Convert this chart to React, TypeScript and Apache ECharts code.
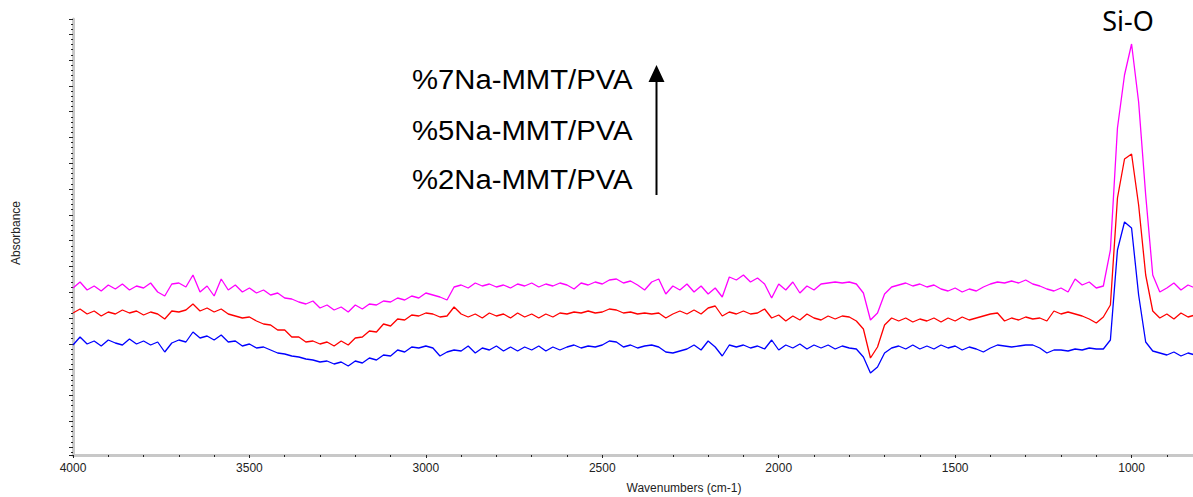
import React, { useEffect, useRef } from "react";
import * as echarts from "echarts";

// Sampling grid (cm-1), 4000 down to 820 in steps of 20
const wavenumbers: number[] = Array.from({ length: 160 }, (_, i) => 4000 - 20 * i);

// Absorbance (arbitrary units)
const pct7: number[] = [
  159, 165, 157, 161, 156, 162, 158, 163, 157, 161,
  159, 164, 155, 151, 163, 164, 160, 172, 155, 161,
  151, 168, 157, 162, 155, 159, 154, 157, 152, 154,
  149, 148, 145, 143, 146, 139, 142, 137, 140, 135,
  142, 138, 143, 142, 146, 145, 149, 147, 151, 149,
  154, 152, 150, 147, 160, 162, 159, 164, 161, 163,
  160, 162, 159, 163, 161, 164, 160, 163, 161, 164,
  162, 158, 164, 162, 165, 163, 167, 168, 164, 166,
  162, 157, 165, 168, 153, 161, 157, 163, 155, 161,
  153, 159, 150, 170, 167, 172, 165, 169, 163, 149,
  163, 157, 165, 154, 161, 157, 163, 164, 165, 164,
  165, 163, 154, 127, 134, 153, 160, 162, 164, 161,
  163, 160, 162, 158, 156, 159, 155, 158, 156, 160,
  163, 165, 164, 166, 164, 167, 163, 161, 158, 156,
  159, 155, 168, 162, 165, 159, 161, 197, 319, 372,
  403, 345, 252, 172, 155, 159, 164, 157, 162, 159,
];
const pct5: number[] = [
  134, 138, 133, 136, 131, 135, 133, 137, 134, 136,
  132, 135, 133, 128, 136, 135, 137, 143, 136, 139,
  135, 138, 133, 131, 129, 130, 126, 123, 122, 117,
  117, 110, 110, 105, 106, 103, 105, 101, 106, 102,
  109, 110, 116, 115, 123, 121, 128, 127, 132, 131,
  134, 133, 130, 131, 140, 133, 130, 133, 129, 134,
  131, 133, 129, 134, 130, 133, 129, 133, 130, 134,
  133, 135, 134, 136, 134, 135, 138, 137, 134, 135,
  133, 134, 133, 134, 129, 133, 136, 133, 137, 133,
  139, 141, 131, 135, 133, 136, 133, 134, 138, 129,
  132, 126, 131, 127, 133, 129, 127, 131, 128, 131,
  130, 126, 118, 89, 100, 122, 129, 126, 129, 125,
  128, 126, 129, 125, 129, 126, 130, 127, 129, 131,
  133, 134, 126, 129, 127, 130, 128, 129, 126, 136,
  133, 135, 133, 131, 128, 124, 130, 142, 249, 288,
  293, 242, 172, 136, 129, 133, 128, 134, 130, 132,
];
const pct2: number[] = [
  102, 110, 103, 106, 101, 107, 104, 102, 108, 103,
  106, 102, 105, 95, 104, 107, 105, 115, 109, 111,
  107, 112, 105, 106, 101, 103, 99, 100, 97, 94,
  93, 91, 90, 88, 87, 85, 86, 83, 85, 81,
  86, 84, 89, 87, 92, 91, 97, 95, 100, 99,
  101, 99, 91, 95, 97, 96, 101, 94, 99, 97,
  101, 96, 100, 96, 100, 97, 101, 96, 100, 97,
  100, 102, 99, 101, 100, 102, 106, 105, 100, 102,
  99, 101, 102, 100, 95, 94, 96, 98, 102, 97,
  106, 100, 91, 102, 100, 102, 99, 101, 98, 107,
  97, 102, 99, 103, 98, 102, 99, 102, 98, 101,
  99, 98, 90, 74, 80, 94, 99, 101, 98, 102,
  98, 101, 98, 102, 99, 101, 97, 100, 98, 95,
  99, 102, 101, 100, 101, 102, 102, 99, 94, 97,
  97, 96, 98, 97, 99, 98, 98, 107, 197, 225,
  219, 152, 105, 96, 94, 92, 95, 91, 94, 92,
];

const seriesNames = ["%7Na-MMT/PVA", "%5Na-MMT/PVA", "%2Na-MMT/PVA"];
const seriesColors = ["#ff00ff", "#ff0000", "#0000ff"];

export default function App() {
  const ref = useRef<HTMLDivElement>(null);
  useEffect(() => {
    const chart = echarts.init(ref.current!, null, { renderer: "svg" });
    const mk = (vals: number[]) => wavenumbers.map((w, i) => [w, vals[i]]);
    const allData = [pct7, pct5, pct2];
    const labelStyle = (text: string) => ({
      text,
      fontSize: 27.5,
      fontFamily: "Liberation Sans",
      fill: "#000",
      align: "left",
      verticalAlign: "middle",
    });
    chart.setOption({
      animation: false,
      backgroundColor: "#ffffff",
      textStyle: { fontFamily: "Liberation Sans" },
      grid: { left: 73, right: 0, top: 19, bottom: 42, outerBoundsMode: "none", containLabel: false },
      xAxis: {
        type: "value",
        min: 500,
        max: 4000,
        interval: 500,
        inverse: true,
        axisLine: { onZero: false, lineStyle: { color: "#c8c8c8", width: 3 } },
        axisTick: { show: true, length: 3, lineStyle: { color: "#222", width: 1 } },
        minorTick: { show: true, splitNumber: 5, length: 2, lineStyle: { color: "#222", width: 1 } },
        axisLabel: {
          margin: 7,
          fontSize: 12,
          color: "#222",
          fontFamily: "Liberation Sans",
          showMinLabel: false,
          formatter: (v: number) => (v < 1000 ? "" : String(v)),
        },
        splitLine: { show: false },
        minorSplitLine: { show: false },
      },
      yAxis: {
        type: "value",
        min: -8,
        max: 428,
        minInterval: 25.8,
        maxInterval: 25.8,
        splitNumber: 17,
        axisLine: { show: true, onZero: false, lineStyle: { color: "#c8c8c8", width: 3 } },
        axisTick: { show: true, length: 4, lineStyle: { color: "#222", width: 1 } },
        minorTick: { show: true, splitNumber: 5, length: 2, lineStyle: { color: "#222", width: 1 } },
        axisLabel: { show: false },
        splitLine: { show: false },
        minorSplitLine: { show: false },
      },
      series: allData.map((vals, k) => ({
        name: seriesNames[k],
        type: "line",
        data: mk(vals),
        symbol: "none",
        showSymbol: false,
        silent: true,
        lineStyle: { color: seriesColors[k], width: 1.3 },
        itemStyle: { color: seriesColors[k] },
      })),
      graphic: [
        { type: "text", x: 412, y: 79.5, scaleX: 1.065, style: labelStyle(seriesNames[0]) },
        { type: "text", x: 412, y: 130.5, scaleX: 1.065, style: labelStyle(seriesNames[1]) },
        { type: "text", x: 412, y: 179, scaleX: 1.065, style: labelStyle(seriesNames[2]) },
        {
          type: "line",
          shape: { x1: 656.5, y1: 195, x2: 656.5, y2: 78 },
          style: { stroke: "#000", lineWidth: 2 },
        },
        {
          type: "polygon",
          shape: { points: [[648.5, 82], [664.5, 82], [656.5, 65]] },
          style: { fill: "#000" },
        },
        {
          type: "text",
          x: 1128,
          y: 20,
          style: { text: "Si-O", fontSize: 27, fontFamily: "Noto Sans", fill: "#000", align: "center", verticalAlign: "middle" },
        },
        {
          type: "text",
          x: 16,
          y: 233,
          rotation: Math.PI / 2,
          style: { text: "Absorbance", fontSize: 12, fontFamily: "Liberation Sans", fill: "#222", align: "center", verticalAlign: "middle" },
        },
        {
          type: "text",
          x: 684,
          y: 488,
          style: { text: "Wavenumbers (cm-1)", fontSize: 12, fontFamily: "Liberation Sans", fill: "#222", align: "center", verticalAlign: "middle" },
        },
      ],
    });
    return () => chart.dispose();
  }, []);
  return (
    <div
      ref={ref}
      style={{ position: "fixed", left: 0, top: 0, width: 1308, height: 497, background: "#fff" }}
    />
  );
}
